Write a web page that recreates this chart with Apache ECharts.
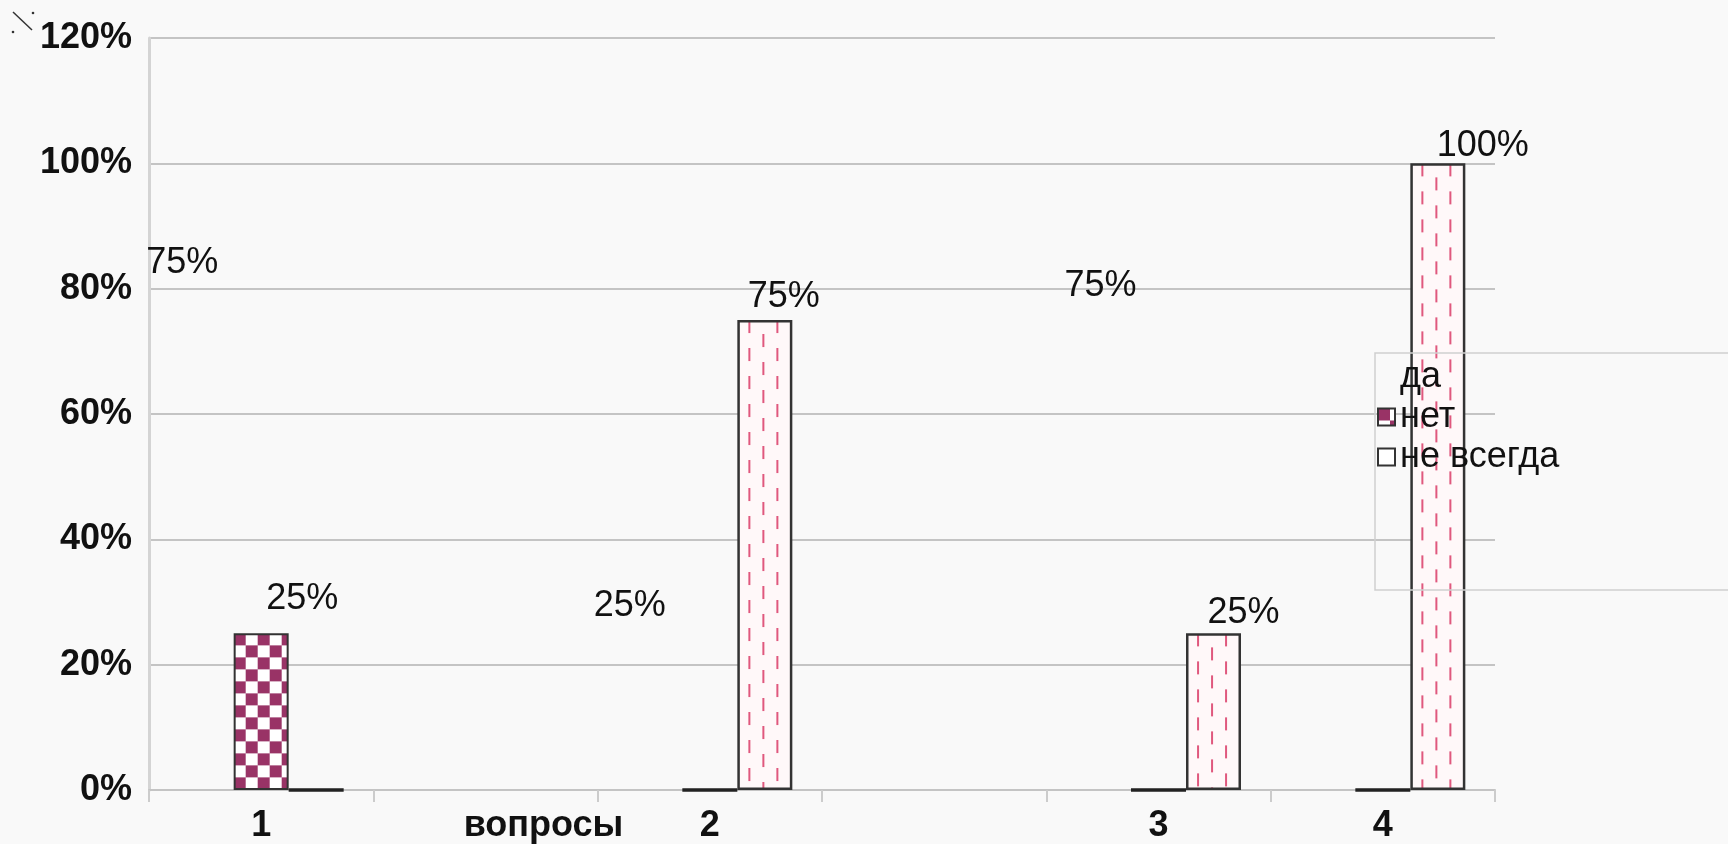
<!DOCTYPE html>
<html><head><meta charset="utf-8">
<script src="https://cdn.jsdelivr.net/npm/echarts@6/dist/echarts.min.js"></script>
<style>html,body{margin:0;padding:0;background:#f9f9f9;}#c{width:1728px;height:844px;}</style>
</head><body><div id="c"></div>
<script>
// ---- data ----
const categories = ['1', 'вопросы', '2', '', '3', '4'];
const seriesNames = ['да', 'нет', 'не всегда'];
const yesValues = [75, null, 25, null, 75, 0];
const noValues = [25, null, 0, null, 0, 0];
const sometimesValues = [0, null, 75, null, 25, 100];
const yTickValues = [0, 20, 40, 60, 80, 100, 120];

// ---- style ----
const FONT = '"Liberation Sans", Arial, sans-serif';
const BAR_W = 55;
const PURPLE = '#993366';
const labelShift = {
  'да': {0: [-24, -34], 2: [-25, -4], 4: [-3, -11]},
  'нет': {0: [41, -11]},
  'не всегда': {2: [19, 0], 4: [30, 3], 5: [45, 6]}
};
const catTextStyle = {1: {padding: [0, 0, 0, 116]}};

function checkerCanvas() {
  const c = document.createElement('canvas'); c.width = 24; c.height = 24;
  const g = c.getContext('2d');
  g.fillStyle = '#fff'; g.fillRect(0, 0, 24, 24);
  g.fillStyle = PURPLE; g.fillRect(0, 0, 12, 12); g.fillRect(12, 12, 12, 12);
  return c;
}
function dashCanvas() {
  const c = document.createElement('canvas'); c.width = 28; c.height = 28;
  const g = c.getContext('2d');
  g.fillStyle = '#fff8f9'; g.fillRect(0, 0, 28, 28);
  g.fillStyle = '#e0587e';
  g.fillRect(11, 0, 2, 13);
  g.fillRect(25, 14, 2, 13);
  return c;
}
const checkerImg = checkerCanvas();
const dashImg = dashCanvas();

const styles = [
  {color: 'rgba(0,0,0,0)', borderWidth: 0},
  {color: {image: checkerImg, repeat: 'repeat'}, borderColor: '#333', borderWidth: 2},
  {color: {image: dashImg, repeat: 'repeat'}, borderColor: '#333', borderWidth: 2.5}
];
const valueSets = [yesValues, noValues, sometimesValues];
const images = [null, checkerImg, dashImg];

function buildItems(k, layouts) {
  const name = seriesNames[k];
  return valueSets[k].map((v, i) => {
    if (v == null) return '-';
    const o = {value: v};
    const s = labelShift[name][i];
    if (s) o.label = {offset: s};
    if (images[k]) {
      const st = {};
      if (v === 0) { st.borderWidth = 3.5; st.borderColor = '#222'; }
      if (layouts && layouts[i]) {
        const L = layouts[i];
        const top = Math.min(L.y, L.y + L.height);
        st.color = {image: images[k], repeat: 'repeat', x: L.x, y: top};
      }
      o.itemStyle = st;
    }
    return o;
  });
}

function buildSeries(layoutsAll) {
  return seriesNames.map((name, k) => ({
    name: name,
    type: 'bar',
    barWidth: BAR_W,
    barGap: '0%',
    itemStyle: styles[k],
    label: {
      show: true, position: 'top', distance: 5,
      fontSize: 36, color: '#111', fontFamily: FONT,
      formatter: p => (p.value ? p.value + '%' : '')
    },
    emphasis: {disabled: true},
    data: buildItems(k, layoutsAll ? layoutsAll[k] : null)
  }));
}

const chart = echarts.init(document.getElementById('c'), null, {renderer: 'canvas'});
const option = {
  backgroundColor: '#f9f9f9',
  animation: false,
  grid: {left: 149, right: 233, top: 38, bottom: 50, containLabel: false},
  graphic: [
    {type: 'line', shape: {x1: 13, y1: 12, x2: 32, y2: 30}, style: {stroke: '#333', lineWidth: 1.5}, silent: true},
    {type: 'circle', shape: {cx: 33, cy: 13, r: 1.3}, style: {fill: '#333'}, silent: true},
    {type: 'circle', shape: {cx: 13, cy: 32, r: 1.3}, style: {fill: '#333'}, silent: true}
  ],
  xAxis: {
    type: 'category',
    data: categories.map((c, i) => catTextStyle[i] ? {value: c, textStyle: catTextStyle[i]} : c),
    boundaryGap: true,
    axisLine: {show: true, lineStyle: {color: '#c4c4c4', width: 2}},
    axisTick: {show: true, length: 12, lineStyle: {color: '#cccccc', width: 2}},
    axisLabel: {fontSize: 36, fontWeight: 'bold', color: '#111', fontFamily: FONT, margin: 18, interval: 0}
  },
  yAxis: {
    type: 'value', min: yTickValues[0], max: yTickValues[yTickValues.length - 1], interval: 20,
    axisLine: {show: true, lineStyle: {color: '#d4d4d4', width: 3}},
    axisTick: {show: false},
    splitLine: {lineStyle: {color: '#c4c4c4', width: 2}},
    axisLabel: {formatter: '{value}%', fontSize: 36, fontWeight: 'bold', color: '#111', fontFamily: FONT, margin: 17}
  },
  legend: {
    orient: 'vertical', left: 1375, top: 353,
    data: [
      {name: 'да'},
      {name: 'нет'},
      {name: 'не всегда', itemStyle: {color: '#fff', borderColor: '#333', borderWidth: 2}}
    ],
    icon: 'rect', itemWidth: 17, itemHeight: 17, itemGap: 4,
    textStyle: {fontSize: 36, color: '#111', fontFamily: FONT},
    padding: [6, 220, 115, 2],
    borderColor: '#cfcfcf', borderWidth: 1.5,
    selectedMode: false
  },
  series: buildSeries(null)
};
chart.setOption(option);

// second pass: anchor fill patterns at each bar's own corner
try {
  const model = chart.getModel();
  const layoutsAll = seriesNames.map((n, k) => {
    const data = model.getSeriesByIndex(k).getData();
    const arr = [];
    for (let i = 0; i < data.count(); i++) arr.push(data.getItemLayout(i));
    return arr;
  });
  chart.setOption({series: buildSeries(layoutsAll)});
} catch (e) { console.error(e); }
</script>
</body></html>
